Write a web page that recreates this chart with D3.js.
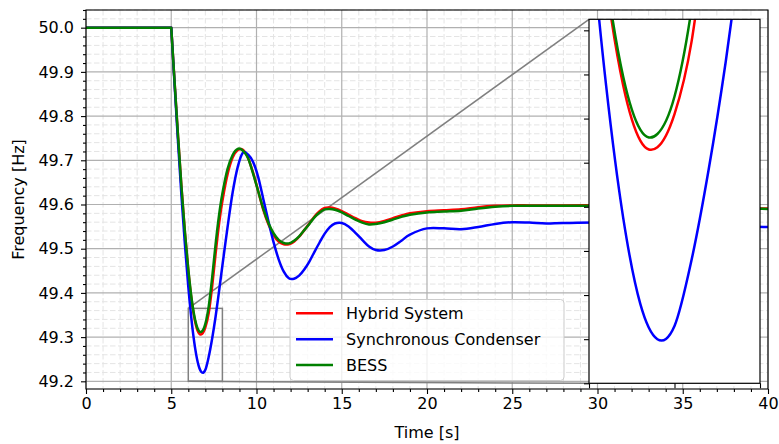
<!DOCTYPE html>
<html>
<head>
<meta charset="utf-8">
<script src="https://cdn.jsdelivr.net/npm/d3@7"></script>
<style>
  body { margin: 0; background: #fff; }
  svg { display: block; font-family: "DejaVu Sans", sans-serif; }
</style>
</head>
<body>
<svg id="chart" width="779" height="444"></svg>
<script>
// Frequency response after the disturbance at t = 5 s

const timeS = [0, 5.0, 5.2, 5.4, 5.6, 5.8, 6.0, 6.2, 6.4, 6.6, 6.8, 7.0, 7.2, 7.4, 7.6, 7.8, 8.0,
    8.3, 8.6, 8.9, 9.2, 9.5, 9.8, 10.1, 10.4, 10.7, 11.0, 11.3, 11.6, 11.9, 12.2, 12.5, 12.8, 13.1,
    13.4, 13.7, 14.0, 14.3, 14.6, 15.0, 15.4, 15.8, 16.2, 16.6, 17.0, 17.5, 18.0, 18.5, 19.0, 20,
    21, 22, 23, 24, 25, 26, 27, 28, 30, 32, 34, 36, 38, 40];

const hybridHz = [50, 50, 49.874, 49.753, 49.639, 49.537, 49.451, 49.382, 49.335, 49.310, 49.307,
    49.322, 49.355, 49.415, 49.488, 49.555, 49.608, 49.668, 49.706, 49.723, 49.724, 49.706, 49.672,
    49.630, 49.588, 49.555, 49.531, 49.516, 49.510, 49.510, 49.516, 49.527, 49.542, 49.557, 49.573,
    49.585, 49.592, 49.593, 49.591, 49.585, 49.577, 49.569, 49.562, 49.559, 49.559, 49.563, 49.569,
    49.575, 49.580, 49.585, 49.587, 49.589, 49.594, 49.597, 49.598, 49.598, 49.598, 49.598, 49.598,
    49.597, 49.595, 49.594, 49.592, 49.591];

const condenserHz = [50, 50, 49.868, 49.740, 49.619, 49.510, 49.414, 49.335, 49.275, 49.236, 49.220,
    49.226, 49.256, 49.297, 49.346, 49.403, 49.462, 49.548, 49.627, 49.685, 49.717, 49.713, 49.696,
    49.662, 49.612, 49.562, 49.515, 49.476, 49.448, 49.433, 49.432, 49.439, 49.453, 49.471, 49.493,
    49.514, 49.534, 49.549, 49.557, 49.558, 49.550, 49.536, 49.520, 49.505, 49.497, 49.497, 49.505,
    49.518, 49.532, 49.546, 49.546, 49.544, 49.549, 49.556, 49.560, 49.559, 49.557, 49.558, 49.559,
    49.557, 49.555, 49.553, 49.551, 49.549];

const bessHz = [50, 50, 49.874, 49.753, 49.639, 49.538, 49.453, 49.385, 49.339, 49.315, 49.313,
    49.330, 49.370, 49.435, 49.510, 49.575, 49.625, 49.680, 49.712, 49.726, 49.722, 49.705, 49.670,
    49.630, 49.590, 49.558, 49.535, 49.520, 49.513, 49.512, 49.518, 49.528, 49.542, 49.556, 49.571,
    49.582, 49.589, 49.590, 49.588, 49.582, 49.574, 49.566, 49.559, 49.555, 49.556, 49.560, 49.566,
    49.572, 49.577, 49.582, 49.584, 49.586, 49.591, 49.595, 49.597, 49.597, 49.597, 49.597, 49.597,
    49.596, 49.594, 49.593, 49.591, 49.590];

const seriesNames = ["Hybrid System", "Synchronous Condenser", "BESS"];
const seriesColors = ["#ff0000", "#0000ff", "#008000"];

const xTicks = [0, 5, 10, 15, 20, 25, 30, 35, 40];
const yTicks = [49.2, 49.3, 49.4, 49.5, 49.6, 49.7, 49.8, 49.9, 50.0];

// zoomed window shown in the inset
const insetTime = [6, 8];
const insetFreq = [49.2, 49.365];

const eventTime = 5;  // frequency is flat until the disturbance

const series = [hybridHz, condenserHz, bessHz].map((vals, i) => ({
    name: seriesNames[i],
    color: seriesColors[i],
    points: timeS.map((t, j) => [t, vals[j]])
}));

// layout
const plot = { left: 86, right: 768, top: 10, bottom: 389 };
const inset = { left: 589, right: 760, top: 19.3, bottom: 383.3 };
const lineWidth = 2.5;

const svg = d3.select("#chart");

const x = d3.scaleLinear().domain([0, 40]).range([plot.left, plot.right]);
const y = d3.scaleLinear().domain([49.1826, 50.04]).range([plot.bottom, plot.top]);

const xMinor = d3.range(0, 41, 1).filter(v => v % 5 !== 0);
const yMinor = d3.range(0, 44)
    .map(i => +(49.18 + i * 0.02).toFixed(2))
    .filter(v => v >= 49.1826 && v <= 50.04 && Math.round(v * 100) % 10 !== 0);

const defs = svg.append("defs");
defs.append("clipPath").attr("id", "clipMain")
    .append("rect")
    .attr("x", plot.left).attr("y", plot.top)
    .attr("width", plot.right - plot.left).attr("height", plot.bottom - plot.top);
defs.append("clipPath").attr("id", "clipInset")
    .append("rect")
    .attr("x", inset.left).attr("y", inset.top)
    .attr("width", inset.right - inset.left).attr("height", inset.bottom - inset.top);

// grid: minor dashed, major solid
const grid = svg.append("g");
grid.selectAll(".vminor").data(xMinor).join("line")
    .attr("x1", d => x(d)).attr("x2", d => x(d))
    .attr("y1", plot.top).attr("y2", plot.bottom)
    .attr("stroke", "#e4e4e4").attr("stroke-width", 1).attr("stroke-dasharray", "5.5,2.5");
grid.selectAll(".hminor").data(yMinor).join("line")
    .attr("y1", d => y(d)).attr("y2", d => y(d))
    .attr("x1", plot.left).attr("x2", plot.right)
    .attr("stroke", "#e4e4e4").attr("stroke-width", 1).attr("stroke-dasharray", "5.5,2.5");
grid.selectAll(".vmajor").data(xTicks).join("line")
    .attr("x1", d => x(d)).attr("x2", d => x(d))
    .attr("y1", plot.top).attr("y2", plot.bottom)
    .attr("stroke", "#b0b0b0").attr("stroke-width", 1.2);
grid.selectAll(".hmajor").data(yTicks).join("line")
    .attr("y1", d => y(d)).attr("y2", d => y(d))
    .attr("x1", plot.left).attr("x2", plot.right)
    .attr("stroke", "#b0b0b0").attr("stroke-width", 1.2);

// zoom box and connectors
const mark = svg.append("g")
    .attr("fill", "none").attr("stroke", "#808080").attr("stroke-width", 1.5);
mark.append("rect")
    .attr("x", x(insetTime[0])).attr("y", y(insetFreq[1]))
    .attr("width", x(insetTime[1]) - x(insetTime[0]))
    .attr("height", y(insetFreq[0]) - y(insetFreq[1]));
mark.append("line")
    .attr("x1", x(insetTime[0])).attr("y1", y(insetFreq[1]))
    .attr("x2", inset.left).attr("y2", inset.top);
mark.append("line")
    .attr("x1", x(insetTime[0])).attr("y1", y(insetFreq[0]))
    .attr("x2", inset.left).attr("y2", inset.bottom);

// curves: straight flat part, then a smooth spline through the response
function pathFor(xs, ys, pts) {
    const flat = d3.line().x(d => xs(d[0])).y(d => ys(d[1]));
    const smooth = d3.line().x(d => xs(d[0])).y(d => ys(d[1]))
        .curve(d3.curveCatmullRom.alpha(0));
    return flat(pts.filter(p => p[0] <= eventTime)) + smooth(pts.filter(p => p[0] >= eventTime));
}

svg.append("g").attr("clip-path", "url(#clipMain)")
    .selectAll("path").data(series).join("path")
    .attr("d", d => pathFor(x, y, d.points))
    .attr("fill", "none")
    .attr("stroke", d => d.color)
    .attr("stroke-width", lineWidth)
    .attr("stroke-linecap", "round")
    .attr("stroke-linejoin", "round");

// frame
svg.append("rect")
    .attr("x", plot.left).attr("y", plot.top)
    .attr("width", plot.right - plot.left).attr("height", plot.bottom - plot.top)
    .attr("fill", "none").attr("stroke", "#000").attr("stroke-width", 1.1);

// axes
function styleAxis(g) {
    g.select(".domain").remove();
    g.selectAll(".tick line").attr("stroke", "#000").attr("stroke-width", 1.1);
    g.selectAll(".tick text").attr("fill", "#000")
        .style("font-family", "DejaVu Sans").style("font-size", "16px");
}

svg.append("g").attr("transform", `translate(0,${plot.bottom})`)
    .call(d3.axisBottom(x).tickValues(xMinor).tickSize(3).tickFormat(""))
    .call(styleAxis);
svg.append("g").attr("transform", `translate(0,${plot.bottom})`)
    .call(d3.axisBottom(x).tickValues(xTicks).tickSize(5).tickPadding(4).tickFormat(d3.format("d")))
    .call(styleAxis);
svg.append("g").attr("transform", `translate(${plot.left},0)`)
    .call(d3.axisLeft(y).tickValues(yMinor).tickSize(3).tickFormat(""))
    .call(styleAxis);
svg.append("g").attr("transform", `translate(${plot.left},0)`)
    .call(d3.axisLeft(y).tickValues(yTicks).tickSize(5).tickPadding(7).tickFormat(d3.format(".1f")))
    .call(styleAxis);

svg.append("text")
    .attr("x", (plot.left + plot.right) / 2).attr("y", 438)
    .attr("text-anchor", "middle").attr("font-size", 16)
    .text("Time [s]");
svg.append("text")
    .attr("transform", `translate(24,${(plot.top + plot.bottom) / 2}) rotate(-90)`)
    .attr("text-anchor", "middle").attr("font-size", 16)
    .text("Frequency [Hz]");

// legend
const legend = svg.append("g");
legend.append("rect")
    .attr("x", 290).attr("y", 299.5).attr("width", 274).attr("height", 81).attr("rx", 3.5)
    .attr("fill", "#fff").attr("fill-opacity", 0.8)
    .attr("stroke", "#cccccc").attr("stroke-width", 1);
const rows = legend.selectAll(".row").data(series).join("g")
    .attr("transform", (d, i) => `translate(0,${313.3 + i * 25.9})`);
rows.append("line")
    .attr("x1", 296).attr("x2", 333)
    .attr("stroke", d => d.color).attr("stroke-width", lineWidth);
rows.append("text")
    .attr("x", 346).attr("y", 5.8).attr("font-size", 16)
    .text(d => d.name);

// inset
const xi = d3.scaleLinear().domain(insetTime).range([inset.left, inset.right]);
const yi = d3.scaleLinear().domain(insetFreq).range([inset.bottom, inset.top]);
const insetTicksY = d3.range(0, 9).map(i => +(49.2 + i * 0.02).toFixed(2));
const insetTicksX = [6, 7, 8];

const ins = svg.append("g");
ins.append("rect")
    .attr("x", inset.left).attr("y", inset.top)
    .attr("width", inset.right - inset.left).attr("height", inset.bottom - inset.top)
    .attr("fill", "#fff");

ins.append("g").attr("clip-path", "url(#clipInset)")
    .selectAll("path").data(series).join("path")
    .attr("d", d => pathFor(xi, yi, d.points.filter(p => p[0] >= eventTime && p[0] <= 9.5)))
    .attr("fill", "none")
    .attr("stroke", d => d.color)
    .attr("stroke-width", lineWidth);

ins.append("g").attr("transform", `translate(${inset.left},0)`)
    .call(d3.axisLeft(yi).tickValues(insetTicksY).tickSize(5).tickFormat(""))
    .call(styleAxis);
ins.append("g").attr("transform", `translate(0,${inset.bottom})`)
    .call(d3.axisBottom(xi).tickValues(insetTicksX).tickSize(5).tickFormat(""))
    .call(styleAxis);

ins.append("rect")
    .attr("x", inset.left).attr("y", inset.top)
    .attr("width", inset.right - inset.left).attr("height", inset.bottom - inset.top)
    .attr("fill", "none").attr("stroke", "#000").attr("stroke-width", 1.2);
</script>
</body>
</html>
